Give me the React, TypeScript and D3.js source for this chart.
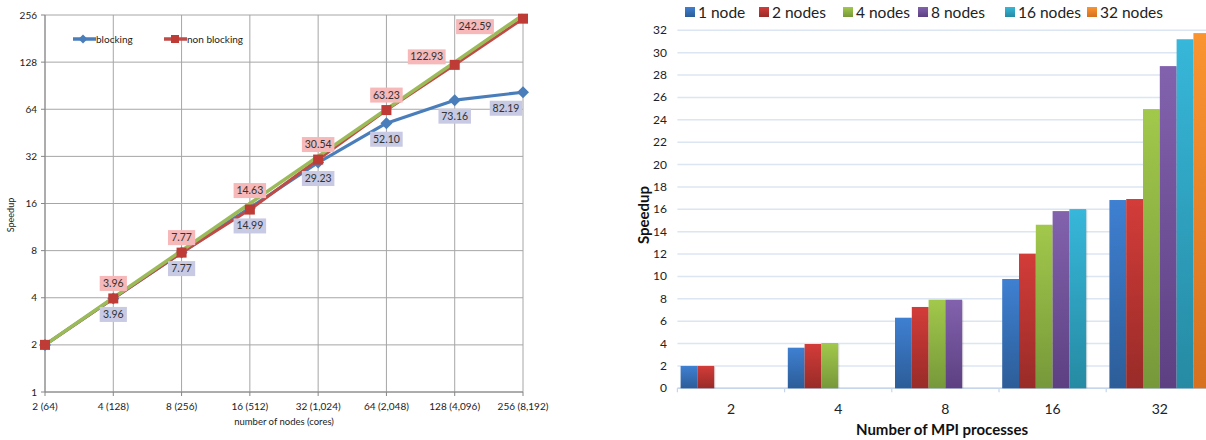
import React from "react";
import * as d3 from "d3";

// ---------- Left chart data ----------
const nodeLabels = ["2 (64)", "4 (128)", "8 (256)", "16 (512)", "32 (1,024)", "64 (2,048)", "128 (4,096)", "256 (8,192)"];
const blocking = [2, 3.96, 7.77, 14.99, 29.23, 52.1, 73.16, 82.19];
const nonBlocking = [2, 3.96, 7.77, 14.63, 30.54, 63.23, 122.93, 242.59];
const ideal = [2, 4, 8, 16, 32, 64, 128, 256];
const yTicksLog = [1, 2, 4, 8, 16, 32, 64, 128, 256];
const blockingLabels = ["", "3.96", "7.77", "14.99", "29.23", "52.10", "73.16", "82.19"];
const nonBlockingLabels = ["", "3.96", "7.77", "14.63", "30.54", "63.23", "122.93", "242.59"];

// label placement (layout only)
const redDx = [0, 0, 0, 0, 0, 0, -28, -48];
const redDy = [-15, -15, -15, -19, -15, -15, -8, 8];
const blueDx = [0, 0, 0, 0, 0, 0, 0, -17];
const blueDy = [16, 16, 16, 18, 16, 16, 16, 16];

// ---------- Right chart data ----------
const mpiProcs = ["2", "4", "8", "16", "32"];
const seriesNames = ["1 node", "2 nodes", "4 nodes", "8 nodes", "16 nodes", "32 nodes"];
const node1 = [2.0, 3.63, 6.31, 9.77, 16.83];
const nodes2 = [2.0, 3.96, 7.27, 12.03, 16.92];
const nodes4 = [null, 4.05, 7.92, 14.62, 24.96];
const nodes8 = [null, null, 7.92, 15.84, 28.8];
const nodes16 = [null, null, null, 16.02, 31.2];
const nodes32 = [null, null, null, null, 31.75];
const barTicks = d3.range(0, 33, 2);

const seriesValues = [node1, nodes2, nodes4, nodes8, nodes16, nodes32];
const seriesTop = ["#3f80d2", "#d33c39", "#a2c84b", "#8262ad", "#37b7da", "#fa9431"];
const seriesBottom = ["#2c5d98", "#982b28", "#77983a", "#5c4082", "#268aa3", "#d7701f"];
const legendX = [685, 759, 843, 918, 1005, 1087];

const FONT = "Lato, 'Open Sans', sans-serif";

function LeftChart() {
  const x = d3.scalePoint<string>().domain(nodeLabels).range([45, 523]);
  const y = d3.scaleLog().base(2).domain([1, 256]).range([392, 15]);
  const line = d3
    .line<number>()
    .x((_, i) => x(nodeLabels[i]) as number)
    .y((d) => y(d));

  const labelBox = (txt: string, cx: number, cy: number, fill: string, key: string) => {
    const w = txt.length * 5.3 + 6;
    return (
      <g key={key}>
        <rect x={cx - w / 2} y={cy - 7.5} width={w} height={15} fill={fill} />
        <text x={cx} y={cy + 3.5} textAnchor="middle" fontSize={10.5} fill="#333" fontFamily={FONT}>
          {txt}
        </text>
      </g>
    );
  };

  return (
    <g>
      {/* grid */}
      {yTicksLog.map((t) => (
        <line key={"gy" + t} x1={45} x2={523} y1={y(t)} y2={y(t)} stroke="#a6a6a6" strokeWidth={1} />
      ))}
      {nodeLabels.map((n) => (
        <line key={"gx" + n} x1={x(n)} x2={x(n)} y1={15} y2={392} stroke="#a6a6a6" strokeWidth={1} />
      ))}
      <line x1={45} x2={45} y1={15} y2={392} stroke="#868686" />
      <line x1={45} x2={523} y1={392} y2={392} stroke="#868686" />
      {yTicksLog.map((t) => (
        <g key={"yt" + t}>
          <line x1={41} x2={45} y1={y(t)} y2={y(t)} stroke="#868686" />
          <text x={37} y={y(t) + 3.5} textAnchor="end" fontSize={10} fill="#222" fontFamily={FONT}>
            {t}
          </text>
        </g>
      ))}
      {nodeLabels.map((n) => (
        <g key={"xt" + n}>
          <line x1={x(n)} x2={x(n)} y1={392} y2={396} stroke="#868686" />
          <text x={x(n)} y={410} textAnchor="middle" fontSize={10} fill="#222" fontFamily={FONT}>
            {n}
          </text>
        </g>
      ))}
      <text x={284} y={425} textAnchor="middle" fontSize={9.5} fill="#222" fontFamily={FONT}>
        number of  nodes (cores)
      </text>
      <text
        transform="translate(14,215) rotate(-90)"
        textAnchor="middle"
        fontSize={9}
        fill="#222"
        fontFamily={FONT}
      >
        Speedup
      </text>

      {/* lines */}
      <path d={line(blocking) || ""} fill="none" stroke="#4a7ebb" strokeWidth={3.2} strokeLinejoin="round" />
      {blocking.map((v, i) => {
        const cx = x(nodeLabels[i]) as number;
        const cy = y(v);
        return (
          <path key={"bd" + i} d={`M${cx},${cy - 6}L${cx + 6},${cy}L${cx},${cy + 6}L${cx - 6},${cy}Z`} fill="#4a7ebb" />
        );
      })}
      <path d={line(nonBlocking) || ""} fill="none" stroke="#be4b48" strokeWidth={3} strokeLinejoin="round" />
      <path d={line(ideal) || ""} fill="none" stroke="#9bbb59" strokeWidth={3.5} />
      {nonBlocking.map((v, i) => {
        const cx = x(nodeLabels[i]) as number;
        const cy = y(v);
        return <rect key={"nb" + i} x={cx - 5} y={cy - 5} width={10} height={10} fill="#be3b36" />;
      })}

      {/* data labels */}
      {nonBlocking.map((v, i) =>
        nonBlockingLabels[i]
          ? labelBox(nonBlockingLabels[i], (x(nodeLabels[i]) as number) + redDx[i], y(v) + redDy[i], "#f6b8b8", "rl" + i)
          : null
      )}
      {blocking.map((v, i) =>
        blockingLabels[i]
          ? labelBox(blockingLabels[i], (x(nodeLabels[i]) as number) + blueDx[i], y(v) + blueDy[i], "#c8c9e3", "bl" + i)
          : null
      )}

      {/* legend */}
      <line x1={73} x2={96} y1={39} y2={39} stroke="#4a7ebb" strokeWidth={3.5} />
      <path d="M83,34.5L87.5,39L83,43.5L78.5,39Z" fill="#4a7ebb" />
      <text x={96} y={42.5} fontSize={10} fill="#222" fontFamily={FONT}>
        blocking
      </text>
      <line x1={164} x2={187} y1={39} y2={39} stroke="#be4b48" strokeWidth={3.5} />
      <rect x={171} y={35} width={8} height={8} fill="#be3b36" />
      <text x={187} y={42.5} fontSize={10} fill="#222" fontFamily={FONT}>
        non blocking
      </text>
    </g>
  );
}

function RightChart() {
  const x0 = d3.scaleBand<string>().domain(mpiProcs).range([677.4, 1213.4]).paddingInner(0).paddingOuter(0);
  const bw = x0.bandwidth();
  const x1 = d3.scaleBand<string>().domain(seriesNames).range([3.2, bw - 3.2]).paddingInner(0);
  const y = d3.scaleLinear().domain([0, 32]).range([388.3, 30.3]);

  return (
    <g>
      <defs>
        {seriesNames.map((s, i) => (
          <linearGradient key={"g" + i} id={"grad" + i} x1="0" y1="0" x2="0" y2="1">
            <stop offset="0%" stopColor={seriesTop[i]} />
            <stop offset="100%" stopColor={seriesBottom[i]} />
          </linearGradient>
        ))}
      </defs>
      {barTicks.map((t) => (
        <g key={"ry" + t}>
          <line x1={677.4} x2={1213.4} y1={y(t)} y2={y(t)} stroke="#dce6f2" strokeWidth={1.5} />
          <text x={667} y={y(t) + 4} textAnchor="end" fontSize={12} fill="#222" fontFamily={FONT}>
            {t}
          </text>
        </g>
      ))}
      <line x1={677.4} x2={1213.4} y1={y(0)} y2={y(0)} stroke="#c6d6ea" strokeWidth={1.5} />
      {mpiProcs.map((c) => (
        <line key={"tk" + c} x1={x0(c) as number} x2={x0(c) as number} y1={y(0)} y2={y(0) + 4} stroke="#c6d6ea" strokeWidth={1.2} />
      ))}
      {seriesValues.map((vals, si) =>
        vals.map((v, ci) => {
          if (v == null) return null;
          const bx = (x0(mpiProcs[ci]) as number) + (x1(seriesNames[si]) as number);
          return (
            <g key={`b${si}-${ci}`}>
              <rect x={bx + 1.2} y={y(v) + 1} width={x1.bandwidth()} height={y(0) - y(v) - 1} fill="rgba(0,0,0,0.12)" />
              <rect x={bx} y={y(v)} width={x1.bandwidth()} height={y(0) - y(v)} fill={`url(#grad${si})`} />
            </g>
          );
        })
      )}
      {mpiProcs.map((c) => (
        <text key={"xl" + c} x={(x0(c) as number) + bw / 2} y={414} textAnchor="middle" fontSize={14} fill="#222" fontFamily={FONT}>
          {c}
        </text>
      ))}
      <text x={942} y={435} textAnchor="middle" fontSize={15} fontWeight="bold" fill="#111" fontFamily={FONT}>
        Number of MPI processes
      </text>
      <text transform="translate(648.5,215) rotate(-90)" textAnchor="middle" fontSize={15} fontWeight="bold" fill="#111" fontFamily={FONT}>
        Speedup
      </text>
      {seriesNames.map((s, i) => (
        <g key={"lg" + i}>
          <rect x={legendX[i]} y={7} width={10} height={10} fill={`url(#grad${i})`} />
          <text x={legendX[i] + 13} y={17.5} fontSize={15.5} fill="#222" fontFamily={FONT}>
            {s}
          </text>
        </g>
      ))}
    </g>
  );
}

export default function App() {
  return (
    <svg
      width={1206}
      height={440}
      style={{ position: "absolute", left: 0, top: 0, background: "#fff" }}
    >
      <rect width={1206} height={440} fill="#fff" />
      <LeftChart />
      <RightChart />
    </svg>
  );
}
